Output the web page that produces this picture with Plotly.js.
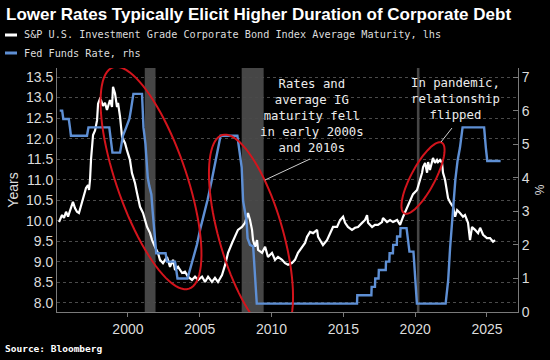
<!DOCTYPE html>
<html>
<head>
<meta charset="utf-8">
<script src="https://cdn.plot.ly/plotly-3.0.1.min.js"></script>
<style>
  html, body { margin: 0; padding: 0; background: #000; }
  #chart { width: 550px; height: 360px; }
</style>
</head>
<body>
<div id="chart"></div>
<script>
// ---- Data ----
const maturityYears = [
  1995.20,1995.41,1995.55,1995.69,1995.83,1996.03,1996.17,1996.31,1996.45,1996.59,
  1996.80,1996.94,1997.08,1997.22,1997.29,1997.36,1997.43,1997.57,1997.71,1997.85,
  1997.92,1998.05,1998.12,1998.26,1998.40,1998.54,1998.75,1998.89,1998.96,1999.10,
  1999.24,1999.31,1999.45,1999.59,1999.80,1999.93,2000.14,2000.28,2000.49,2000.63,
  2000.84,2001.05,2001.33,2001.54,2001.68,2001.88,2002.02,2002.09,2002.23,2002.44,
  2002.72,2002.93,2003.14,2003.28,2003.49,2003.77,2003.97,2004.18,2004.46,2004.67,
  2004.88,2005.16,2005.37,2005.58,2005.85,2006.06,2006.27,2006.55,2006.76,2006.97,
  2007.25,2007.46,2007.66,2007.94,2008.15,2008.36,2008.50,2008.64,2008.71,2008.85,
  2008.99,2009.06,2009.34,2009.55,2009.75,2010.03,2010.24,2010.45,2010.73,2010.94,
  2011.15,2011.42,2011.63,2011.84,2012.12,2012.33,2012.47,2012.68,2012.89,2013.17,
  2013.24,2013.37,2013.51,2013.58,2013.86,2014.07,2014.28,2014.56,2014.77,2014.98,
  2015.12,2015.32,2015.60,2015.81,2016.02,2016.30,2016.51,2016.65,2016.72,2017.00,
  2017.20,2017.41,2017.69,2017.76,2018.04,2018.25,2018.46,2018.74,2018.95,2019.16,
  2019.43,2019.64,2019.85,2020.13,2020.20,2020.34,2020.48,2020.55,2020.69,2020.83,
  2020.90,2021.03,2021.17,2021.24,2021.38,2021.52,2021.59,2021.73,2021.87,2021.94,
  2022.08,2022.22,2022.29,2022.43,2022.64,2022.78,2022.92,2023.12,2023.33,2023.47,
  2023.68,2023.82,2023.96,2024.17,2024.38,2024.52,2024.73,2025.00,2025.21,2025.42,
  2025.56
];
const maturityValues = [
  9.97,10.14,10.07,10.22,10.10,10.34,10.46,10.31,10.22,10.19,
  10.46,10.68,10.80,10.87,10.75,11.00,11.50,12.09,12.20,12.45,
  12.85,12.97,12.94,12.80,12.87,12.70,12.94,12.77,13.26,13.10,
  12.77,12.87,12.53,12.04,11.89,11.72,11.48,11.16,10.92,10.68,
  10.34,10.19,9.85,9.70,9.53,9.37,9.29,9.22,9.05,8.97,
  9.12,8.88,9.05,8.80,8.88,8.73,8.76,8.64,8.56,8.64,
  8.56,8.64,8.51,8.64,8.51,8.61,8.51,8.68,8.92,9.22,
  9.46,9.61,9.78,9.85,9.95,10.19,10.02,9.78,9.53,9.37,
  9.53,9.29,9.22,9.37,9.12,9.22,9.05,9.12,9.05,8.97,
  8.93,8.97,9.05,9.22,9.37,9.46,9.61,9.73,9.70,9.78,
  9.61,9.53,9.46,9.41,9.53,9.70,9.85,9.85,10.02,10.10,
  9.95,9.85,9.78,9.83,9.85,9.95,10.02,10.14,9.95,9.85,
  9.90,9.90,9.97,10.07,9.97,10.02,9.97,10.02,9.90,10.10,
  10.31,10.46,10.65,10.75,10.85,11.00,11.17,11.31,11.41,11.17,
  11.43,11.24,11.43,11.53,11.41,11.48,11.43,11.48,11.41,11.17,
  11.00,10.68,10.55,10.45,10.34,10.10,10.26,10.19,10.10,10.14,
  9.95,9.53,9.85,9.78,9.70,9.83,9.66,9.58,9.58,9.49,
  9.53
];
const fedYears = [
  1995.25,1995.42,1995.50,1995.88,1995.96,1996.03,1997.15,1997.25,1998.70,1998.78,
  1998.86,1998.92,1999.45,1999.55,1999.65,1999.88,2000.10,2000.20,2000.38,2000.98,
  2001.05,2001.08,2001.22,2001.30,2001.38,2001.49,2001.63,2001.72,2001.80,2001.88,
  2001.97,2002.62,2002.72,2003.28,2003.35,2003.45,2004.15,2004.32,2004.55,2004.80,
  2005.05,2005.30,2005.55,2005.80,2006.00,2006.20,2006.30,2006.45,2007.62,2007.72,
  2007.92,2008.02,2008.12,2008.25,2008.33,2008.50,2008.72,2008.82,2008.97,2015.95,
  2015.97,2016.95,2016.97,2017.20,2017.22,2017.45,2017.47,2017.95,2017.97,2018.20,
  2018.22,2018.45,2018.47,2018.72,2018.74,2018.96,2018.98,2019.40,2019.50,2019.60,
  2019.88,2019.99,2020.12,2022.12,2022.22,2022.30,2022.43,2022.55,2022.65,2022.80,
  2022.95,2023.12,2023.30,2024.80,2024.92,2025.02,2025.95
];
const fedValues = [
  6.00,6.00,5.75,5.75,5.50,5.25,5.25,5.50,5.50,5.25,
  5.00,4.75,4.75,5.00,5.25,5.50,5.75,6.00,6.50,6.50,
  6.00,5.50,5.00,4.50,4.00,3.75,3.50,3.00,2.50,2.00,
  1.75,1.75,1.50,1.50,1.25,1.00,1.00,1.25,1.60,2.00,
  2.50,2.90,3.35,3.85,4.30,4.75,5.00,5.25,5.25,4.90,
  4.30,3.30,3.00,2.75,2.20,2.00,1.95,1.20,0.25,0.25,
  0.50,0.50,0.75,0.75,1.00,1.00,1.25,1.25,1.50,1.50,
  1.75,1.75,2.00,2.00,2.25,2.25,2.50,2.50,2.10,1.80,
  1.80,0.95,0.25,0.25,0.55,0.95,1.90,2.60,3.30,3.95,
  4.50,4.90,5.50,5.50,4.90,4.50,4.50
];
// Recessions (start, end)
const recessionStart = [2001.17, 2007.92, 2020.12];
const recessionEnd   = [2001.92, 2009.45, 2020.30];

const xTickVals = [2000, 2005, 2010, 2015, 2020, 2025];
const leftTickVals = [8.0, 8.5, 9.0, 9.5, 10.0, 10.5, 11.0, 11.5, 12.0, 12.5, 13.0, 13.5];
const rightTickVals = [0, 1, 2, 3, 4, 5, 6, 7];

const titleText = "Lower Rates Typically Elicit Higher Duration of Corporate Debt";
const seriesNames = ["S&P U.S. Investment Grade Corporate Bond Index Average Maturity, lhs", "Fed Funds Rate, rhs"];
const note1 = "Rates and<br>average IG<br>maturity fell<br>in early 2000s<br>and 2010s";
const note2 = "In pandemic,<br>relationship<br>flipped";
const sourceText = "Source: Bloomberg";

// ---- Layout geometry ----
const W = 550, H = 360;
const L = 57, R = 518, T = 68, B = 312;
const xRange = [1995.06, 2027.16];
const yRange = [7.78, 13.72];
const y2Range = [0, 7.27];

const px2x = px => xRange[0] + (px - L) / (R - L) * (xRange[1] - xRange[0]);
const py2y = py => yRange[1] - (py - T) / (B - T) * (yRange[1] - yRange[0]);
const px2p = px => (px - L) / (R - L);
const py2p = py => (B - py) / (B - T);

function ellipsePath(cx, cy, a, b, phiDeg) {
  const phi = phiDeg * Math.PI / 180;
  const ux = Math.sin(phi), uy = Math.cos(phi);
  const vx = Math.cos(phi), vy = -Math.sin(phi);
  let d = "";
  for (let i = 0; i <= 90; i++) {
    const t = i / 90 * 2 * Math.PI;
    const px = cx + a * Math.cos(t) * ux + b * Math.sin(t) * vx;
    const py = cy + a * Math.cos(t) * uy + b * Math.sin(t) * vy;
    d += (i === 0 ? "M" : "L") + px2x(px).toFixed(4) + "," + py2y(py).toFixed(4);
  }
  return d + "Z";
}

const red = "#d3141c";
const blue = "#5e8fd4";
const axisCol = "#7a7a7a";
const textCol = "#dcdcdc";
const mono = "DejaVu Sans Mono, monospace";
const sans = "Liberation Sans, Arial, sans-serif";

const shapes = [];
for (let i = 0; i < recessionStart.length; i++) {
  shapes.push({type: "rect", xref: "x", yref: "paper", x0: recessionStart[i], x1: recessionEnd[i],
    y0: 0, y1: 1, fillcolor: "#464646", line: {width: 0}, layer: "below"});
}
[[151, 178, 117, 35, 19], [251, 235, 104, 32, 16], [423, 178, 40, 12, -28]].forEach(e => {
  shapes.push({type: "path", xref: "x", yref: "y", path: ellipsePath(...e),
    line: {color: red, width: 2}, layer: "above"});
});
// pointer lines
shapes.push({type: "line", xref: "x", yref: "y", x0: px2x(310), y0: py2y(159), x1: px2x(265), y1: py2y(180),
  line: {color: "#cfcfcf", width: 1}});
shapes.push({type: "line", xref: "x", yref: "y", x0: px2x(452), y0: py2y(128), x1: px2x(441), y1: py2y(142),
  line: {color: "#cfcfcf", width: 1}});
// legend swatches
shapes.push({type: "line", xref: "paper", yref: "paper", x0: px2p(5), x1: px2p(17), y0: py2p(35), y1: py2p(35),
  line: {color: "#ffffff", width: 3}});
shapes.push({type: "line", xref: "paper", yref: "paper", x0: px2p(5), x1: px2p(17), y0: py2p(53), y1: py2p(53),
  line: {color: blue, width: 3}});

const annotations = [
  {xref: "paper", yref: "paper", x: px2p(22), y: py2p(35), xanchor: "left", yanchor: "middle",
   text: seriesNames[0].replace("&", "&amp;"), showarrow: false, font: {family: mono, size: 10.2, color: textCol}},
  {xref: "paper", yref: "paper", x: px2p(22), y: py2p(53), xanchor: "left", yanchor: "middle",
   text: seriesNames[1], showarrow: false, font: {family: mono, size: 10.2, color: textCol}},
  {xref: "x", yref: "y", x: px2x(312), y: py2y(116), xanchor: "center", yanchor: "middle",
   text: note1, showarrow: false, align: "center", font: {family: mono, size: 12.3, color: "#ececec"}},
  {xref: "x", yref: "y", x: px2x(455), y: py2y(99), xanchor: "center", yanchor: "middle",
   text: note2, showarrow: false, align: "center", font: {family: mono, size: 12.3, color: "#ececec"}},
  {xref: "paper", yref: "paper", x: px2p(3), y: py2p(348), xanchor: "left", yanchor: "middle",
   text: "<b>" + sourceText + "</b>", showarrow: false, font: {family: mono, size: 9.5, color: "#ffffff"}}
];

const traces = [
  {x: fedYears, y: fedValues, yaxis: "y2", type: "scatter", mode: "lines", name: seriesNames[1],
   line: {color: blue, width: 2.4}, hoverinfo: "skip"},
  {x: maturityYears, y: maturityValues, yaxis: "y", type: "scatter", mode: "lines", name: seriesNames[0],
   line: {color: "#ffffff", width: 2.2}, hoverinfo: "skip"}
];

const layout = {
  width: W, height: H,
  paper_bgcolor: "#000000", plot_bgcolor: "#000000",
  margin: {l: L, r: W - R, t: T, b: H - B, pad: 0},
  showlegend: false,
  title: {text: "<b>" + titleText + "</b>", xref: "container", yref: "container", x: 6 / W, xanchor: "left",
          y: 1 - 14 / H, yanchor: "middle", font: {family: sans, size: 17, color: "#ffffff"}},
  xaxis: {range: xRange, tickvals: xTickVals, ticks: "outside", ticklen: 4, tickcolor: axisCol,
          showline: true, linecolor: axisCol, linewidth: 1, showgrid: false, zeroline: false,
          tickfont: {family: sans, size: 14, color: textCol}},
  yaxis: {range: yRange, tickvals: leftTickVals, tickformat: ".1f", ticks: "", showline: true,
          linecolor: axisCol, linewidth: 1, showgrid: true, gridcolor: "#4a4a4a", griddash: "dot", gridwidth: 1,
          zeroline: false, tickfont: {family: sans, size: 14, color: textCol},
          title: {text: "Years", standoff: 4, font: {family: sans, size: 14, color: textCol}}},
  yaxis2: {range: y2Range, tickvals: rightTickVals, overlaying: "y", side: "right", ticks: "inside",
           ticklen: 5, tickcolor: axisCol, showline: true, linecolor: axisCol, linewidth: 1,
           showgrid: false, zeroline: false, tickfont: {family: sans, size: 14, color: textCol},
           title: {text: "%", standoff: 6, font: {family: sans, size: 12, color: textCol}}},
  shapes: shapes,
  annotations: annotations
};

Plotly.newPlot("chart", traces, layout, {displayModeBar: false, staticPlot: true});
</script>
</body>
</html>
